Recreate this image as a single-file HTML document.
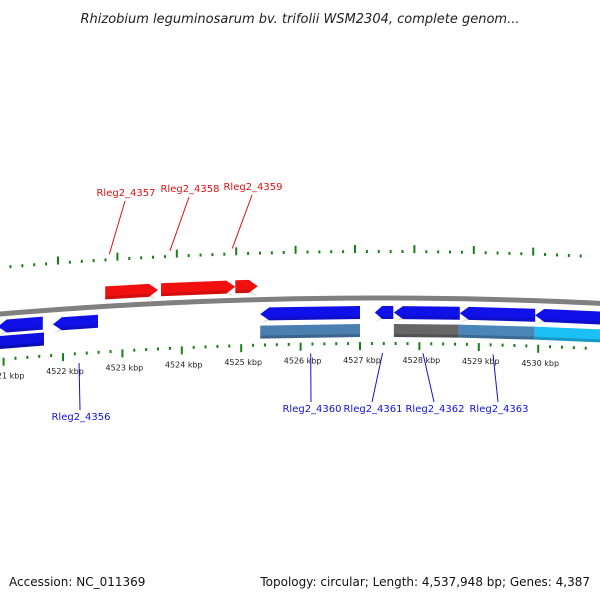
<!DOCTYPE html>
<html><head><meta charset="utf-8"><style>
html,body{margin:0;padding:0;background:#fff;}
svg{display:block;font-family:"DejaVu Sans","Liberation Sans",sans-serif;}
</style></head><body>
<svg id="chart" width="600" height="600" viewBox="0 0 600 600">
<defs>
<linearGradient id="gBack" x1="0" y1="0" x2="0" y2="1"><stop offset="0" stop-color="#aaa"/><stop offset="0.5" stop-color="#777"/><stop offset="1" stop-color="#999"/></linearGradient>
</defs>
<text x="300" y="23" text-anchor="middle" font-size="13" font-style="italic" fill="#222">Rhizobium leguminosarum bv. trifolii WSM2304, complete genom...</text>
<g id="ticksTop"></g>
<g id="genes"></g>
<g id="ticksBot"></g>
<g id="labels"></g>
<text x="9" y="586" font-size="12" fill="#111">Accession: NC_011369</text>
<text x="590" y="586" text-anchor="end" font-size="12" fill="#111">Topology: circular; Length: 4,537,948 bp; Genes: 4,387</text>
</svg>
<script>
const tickKbp = [4521, 4522, 4523, 4524, 4525, 4526, 4527, 4528, 4529, 4530, 4531];
const tickLabels = ["4521 kbp","4522 kbp","4523 kbp","4524 kbp","4525 kbp","4526 kbp","4527 kbp","4528 kbp","4529 kbp","4530 kbp","4531 kbp"];
const fwdNames = ["Rleg2_4357","Rleg2_4358","Rleg2_4359"];
const fwdStart = [4522.71, 4523.65, 4524.90];
const fwdEnd = [4523.60, 4524.90, 4525.28];
const revNames = ["left-gene-a","Rleg2_4356","Rleg2_4360","Rleg2_4361","Rleg2_4362","Rleg2_4363","right-gene"];
const revStart = [4520.90, 4521.83, 4525.32, 4527.25, 4527.57, 4528.68, 4529.95];
const revEnd = [4521.66, 4522.59, 4527.00, 4527.56, 4528.68, 4529.95, 4531.10];
const boxStart = [4520.90, 4525.32, 4527.57, 4528.66, 4529.94];
const boxEnd = [4521.68, 4527.00, 4528.66, 4529.94, 4531.10];
const boxColors = ["#1010e0", "#4a7fb0", "#666666", "#4a86b8", "#1cc0f4"];
const labelKbp = [4522.78, 4523.80, 4524.85, 4522.27, 4526.17, 4527.38, 4528.06, 4529.24];
const labelTexts = ["Rleg2_4357","Rleg2_4358","Rleg2_4359","Rleg2_4356","Rleg2_4360","Rleg2_4361","Rleg2_4362","Rleg2_4363"];

const NS="http://www.w3.org/2000/svg";
function X(k){return 63+(k-4522)*59.4;}
function sag(x){return (x-380)*(x-380)/9000;}
function Y(x,base){return base+sag(x);}
function mk(t,a,p){const e=document.createElementNS(NS,t);for(const k in a)e.setAttribute(k,a[k]);p.appendChild(e);return e;}
const gT=document.getElementById('ticksTop'),gB=document.getElementById('ticksBot'),gG=document.getElementById('genes'),gL=document.getElementById('labels');

// rulers
for(let i=0;i<tickKbp.length-1;i++){
  for(let j=0;j<5;j++){
    const k=tickKbp[i]+j*0.2;
    const major=j===0;
    const xt=X(k)-5, xb=X(k);
    if(xt>-3&&xt<603){
      const r=mk('rect',{x:xt-1,y:Y(xt,251)-(major?6:1),width:2,height:major?8:3,fill:'#188018'},gT);
      
      
    }
    if(xb>-3&&xb<603){
      const r=mk('rect',{x:xb-1,y:Y(xb,343)-(major?1:1),width:2,height:major?8:3,fill:'#188018'},gB);
      
      
      if(major){
        const t=mk('text',{x:xb+2,y:Y(xb,363),'text-anchor':'middle','font-size':'8',fill:'#222'},gB);
        t.textContent=tickLabels[i];
        
        
      }
    }
  }
}

// backbone
{
  let d='';
  for(let x=-5;x<=605;x+=10){d+=(x===-5?'M':'L')+x+','+Y(x,298).toFixed(2);}
  const p=mk('path',{d:d,stroke:'#808080','stroke-width':5,fill:'none'},gG);
  
  
}

function arrow(x1,x2,base,h,dir,color,name){
  const a=Math.min(9,(x2-x1)*0.4);
  const y1=Y(x1,base),y2=Y(x2,base);
  let pts;
  if(dir>0){
    const xa=x2-a, ya=Y(xa,base);
    pts=[[x1,y1],[xa,ya],[x2,(y2+h/2)],[xa,ya+h],[x1,y1+h]];
  } else {
    const xa=x1+a, ya=Y(xa,base);
    pts=[[x1,y1+h/2],[xa,ya],[x2,y2],[x2,y2+h],[xa,ya+h]];
  }
  const p=mk('polygon',{points:pts.map(q=>q[0].toFixed(1)+','+q[1].toFixed(1)).join(' '),fill:color},gG);
  
  
  const s=mk('polygon',{points:pts.map(q=>q[0].toFixed(1)+','+(q[1]+ (q[1]>Y(q[0],base)+h*0.6?0:h*0.75)).toFixed(1)).join(' '),fill:'rgba(0,0,0,0.12)'},gG);
  
  
}
for(let i=0;i<fwdStart.length;i++) arrow(X(fwdStart[i]),X(fwdEnd[i]),278,13,1,'#f01010','gene-'+fwdNames[i]);
for(let i=0;i<revStart.length;i++){
  const base = i===0?304:306;
  arrow(X(revStart[i]),X(revEnd[i]),base,13,-1,'#1010e8','gene-'+revNames[i]);
}
for(let i=0;i<boxStart.length;i++){
  const x1=X(boxStart[i]),x2=X(boxEnd[i]);
  const base=i===0?320:324,h=13;
  const d=`M${x1},${Y(x1,base)} L${x2},${Y(x2,base)} L${x2},${Y(x2,base)+h} L${x1},${Y(x1,base)+h}Z`;
  const p=mk('path',{d:d,fill:boxColors[i]},gG);
  
  
  const d2=`M${x1},${Y(x1,base)+h-3} L${x2},${Y(x2,base)+h-3} L${x2},${Y(x2,base)+h} L${x1},${Y(x1,base)+h}Z`;
  const s=mk('path',{d:d2,fill:'rgba(0,0,0,0.2)'},gG);
  
  
}

// labels
const labTop=[196,192,190];
for(let i=0;i<labelTexts.length;i++){
  const xg=X(labelKbp[i]);
  let lx,ly,x1,y1,x2,y2,col;
  if(i<3){
    col='#e01010'; lx=[126,190,253][i]; ly=labTop[i];
    x1=lx-1;y1=ly+5;x2=xg;y2=Y(xg,247)-1;
  } else {
    col='#1010d8'; lx=[81,312,373,435,499][i-3]; ly=[420,412,412,412,412][i-3];
    x1=xg;y1=Y(xg,353);x2=lx-1;y2=ly-10;
  }
  const l=mk('line',{x1:x1,y1:y1,x2:x2,y2:y2,stroke:col,'stroke-width':1},gL);
  
  
  const t=mk('text',{x:lx,y:ly,'text-anchor':'middle','font-size':'10',fill:col},gL);
  t.textContent=labelTexts[i];
  
  
}
</script>
</body></html>
